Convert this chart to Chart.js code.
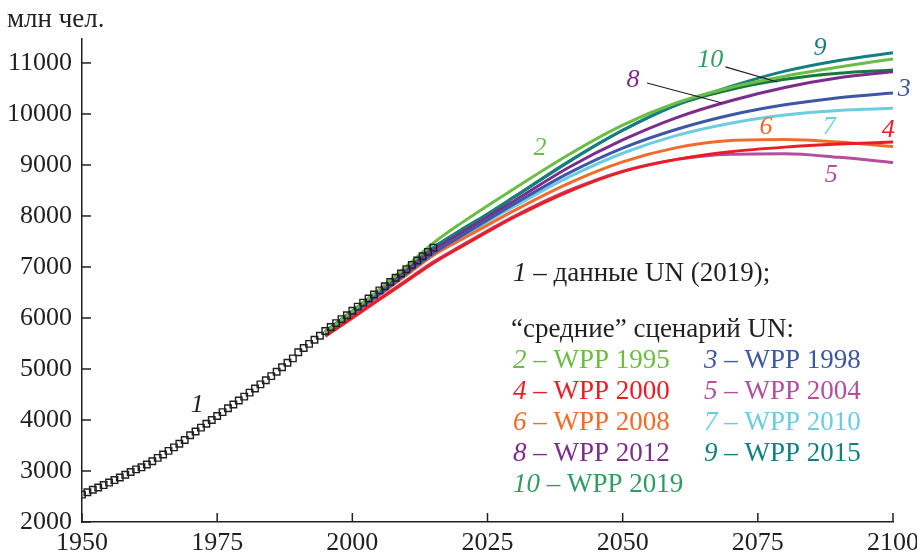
<!DOCTYPE html>
<html>
<head>
<meta charset="utf-8">
<script src="https://cdn.jsdelivr.net/npm/chart.js@4"></script>
<style>
  html, body { margin: 0; padding: 0; background: #fff; }
  #wrap { width: 917px; height: 553px; position: relative; }
</style>
</head>
<body>
<div id="wrap"><canvas id="grafico"></canvas></div>
<script>
// данные UN (2019), 1950-2015, млн чел.
const anosHist = [];
for (let a = 1950; a <= 2015; a++) anosHist.push(a);
const popHist = [
  2536, 2584, 2631, 2677, 2724, 2773, 2822, 2873, 2925, 2979,
  3032, 3072, 3126, 3190, 3257, 3324, 3394, 3464, 3535, 3609,
  3700, 3775, 3850, 3925, 4000, 4079, 4154, 4229, 4305, 4383,
  4458, 4536, 4617, 4698, 4778, 4861, 4946, 5034, 5122, 5209,
  5327, 5411, 5493, 5573, 5652, 5744, 5822, 5900, 5977, 6054,
  6143, 6222, 6301, 6381, 6461, 6541, 6623, 6705, 6788, 6872,
  6957, 7041, 7126, 7211, 7296, 7380
];

// сценарии WPP
const anosProj = [1995, 2000, 2005, 2010, 2015, 2020, 2025, 2030, 2040, 2050, 2060, 2070, 2080, 2090, 2100];
const wpp1995 = [5720, 6130, 6560, 7010, 7470, 7850, 8200, 8540, 9200, 9780, 10220, 10520, 10740, 10920, 11080];
const wpp1998 = [5710, 6090, 6470, 6870, 7270, 7600, 7920, 8240, 8840, 9330, 9700, 9980, 10180, 10320, 10410];
const wpp2000 = [5640, 6000, 6360, 6720, 7080, 7390, 7690, 7980, 8480, 8870, 9110, 9260, 9350, 9410, 9450];
const wpp2004 = [5660, 6020, 6380, 6740, 7100, 7410, 7710, 8000, 8500, 8880, 9110, 9210, 9220, 9150, 9050];
const wpp2008 = [5700, 6080, 6450, 6840, 7230, 7530, 7820, 8110, 8640, 9060, 9340, 9480, 9500, 9450, 9360];
const wpp2010 = [5710, 6090, 6470, 6870, 7260, 7580, 7890, 8190, 8760, 9230, 9580, 9820, 9980, 10070, 10110];
const wpp2012 = [5720, 6110, 6500, 6920, 7330, 7660, 7980, 8300, 8950, 9490, 9930, 10260, 10520, 10710, 10830];
const wpp2015 = [5730, 6130, 6530, 6950, 7380, 7710, 8030, 8370, 9060, 9680, 10180, 10540, 10840, 11050, 11200];
const wpp2019 = [5730, 6140, 6540, 6960, 7380, 7720, 8040, 8380, 9070, 9680, 10180, 10480, 10680, 10800, 10860];

const xTicks = [1950, 1975, 2000, 2025, 2050, 2075, 2100];
const yTicks = [2000, 3000, 4000, 5000, 6000, 7000, 8000, 9000, 10000, 11000];

const preto = '#231f20';
const fonte = '"Liberation Serif", "Times New Roman", serif';

const series = [
  { n: '2', nome: 'WPP 1995', dados: wpp1995, cor: '#6bbd45' },
  { n: '3', nome: 'WPP 1998', dados: wpp1998, cor: '#3d56a6' },
  { n: '4', nome: 'WPP 2000', dados: wpp2000, cor: '#ec1c24' },
  { n: '5', nome: 'WPP 2004', dados: wpp2004, cor: '#b44f9e' },
  { n: '6', nome: 'WPP 2008', dados: wpp2008, cor: '#f26b2a' },
  { n: '7', nome: 'WPP 2010', dados: wpp2010, cor: '#6dcde0' },
  { n: '8', nome: 'WPP 2012', dados: wpp2012, cor: '#7d2c8c' },
  { n: '9', nome: 'WPP 2015', dados: wpp2015, cor: '#137f80' },
  { n: '10', nome: 'WPP 2019', dados: wpp2019, cor: '#167a3e', corTexto: '#2f9d63' }
];

// номера кривых на поле графика (год, млн чел.)
const rotulos = [
  { t: '1', x: 1971.3, y: 4294, cor: preto },
  { t: '2', x: 2034.7, y: 9333, cor: '#6bbd45' },
  { t: '8', x: 2051.9, y: 10667, cor: '#7d2c8c' },
  { t: '10', x: 2066.2, y: 11059, cor: '#2f9d63' },
  { t: '9', x: 2086.5, y: 11294, cor: '#137f80' },
  { t: '3', x: 2102.1, y: 10490, cor: '#3d56a6' },
  { t: '6', x: 2076.5, y: 9745, cor: '#f26b2a' },
  { t: '7', x: 2088.2, y: 9745, cor: '#6dcde0' },
  { t: '4', x: 2099.1, y: 9686, cor: '#ec1c24' },
  { t: '5', x: 2088.6, y: 8804, cor: '#b44f9e' }
];
const linhasGuia = [
  [2054.5, 10608, 2068.4, 10216],
  [2069.0, 10922, 2078.6, 10627]
];

const datasets = [{
  label: '1',
  data: anosHist.map((a, i) => ({ x: a, y: popHist[i] })),
  showLine: false,
  pointStyle: 'rect',
  pointRadius: 4.6,
  pointBorderWidth: 1.4,
  pointBorderColor: preto,
  pointBackgroundColor: 'rgba(255,255,255,0)'
}];
series.forEach(s => {
  datasets.push({
    label: s.nome,
    data: anosProj.map((a, i) => ({ x: a, y: s.dados[i] })),
    borderColor: s.cor,
    borderWidth: 3,
    pointRadius: 0,
    cubicInterpolationMode: 'monotone',
    fill: false
  });
});

const desenhos = {
  id: 'desenhos',
  afterDraw(chart) {
    const ctx = chart.ctx;
    const x = chart.scales.x, y = chart.scales.y;
    const area = chart.chartArea;
    ctx.save();
    // засечки внутрь и подписи оси X
    ctx.strokeStyle = preto;
    ctx.lineWidth = 1.5;
    ctx.fillStyle = preto;
    ctx.font = '26px ' + fonte;
    ctx.textAlign = 'center';
    ctx.textBaseline = 'alphabetic';
    xTicks.forEach(v => {
      const px = x.getPixelForValue(v);
      ctx.beginPath(); ctx.moveTo(px, area.bottom); ctx.lineTo(px, area.bottom - 9); ctx.stroke();
      ctx.fillText(String(v), px, 550);
    });
    yTicks.forEach(v => {
      const py = y.getPixelForValue(v);
      ctx.beginPath(); ctx.moveTo(area.left, py); ctx.lineTo(area.left + 9, py); ctx.stroke();
    });
    // выноски
    ctx.lineWidth = 1.2;
    linhasGuia.forEach(l => {
      ctx.beginPath();
      ctx.moveTo(x.getPixelForValue(l[0]), y.getPixelForValue(l[1]));
      ctx.lineTo(x.getPixelForValue(l[2]), y.getPixelForValue(l[3]));
      ctx.stroke();
    });
    // номера кривых
    ctx.font = 'italic 26px ' + fonte;
    ctx.textBaseline = 'middle';
    rotulos.forEach(r => {
      ctx.fillStyle = r.cor;
      ctx.fillText(r.t, x.getPixelForValue(r.x), y.getPixelForValue(r.y));
    });
    // подпись оси
    ctx.textAlign = 'left';
    ctx.textBaseline = 'alphabetic';
    ctx.fillStyle = preto;
    ctx.font = '27px ' + fonte;
    ctx.fillText('млн чел.', 7, 27);
    // легенда
    function item(px, py, num, texto, cor) {
      ctx.fillStyle = cor;
      ctx.font = 'italic 27px ' + fonte;
      ctx.fillText(num, px, py);
      let w = ctx.measureText(num).width;
      ctx.font = '27px ' + fonte;
      ctx.fillText(' – ' + texto, px + w, py);
    }
    item(513, 281, '1', 'данные UN (2019);', preto);
    ctx.font = '27px ' + fonte;
    ctx.fillStyle = preto;
    ctx.fillText('“средние” сценарий UN:', 511, 337);
    const linhasY = [368, 399, 430, 461, 492];
    series.forEach((s, i) => {
      const col = i % 2, lin = Math.floor(i / 2);
      item(col ? 704 : 513, linhasY[lin], s.n, s.nome, s.corTexto || s.cor);
    });
    ctx.restore();
  }
};

new Chart(document.getElementById('grafico'), {
  type: 'line',
  data: { datasets },
  options: {
    responsive: true,
    maintainAspectRatio: false,
    animation: false,
    layout: { padding: { top: 39, right: 24, left: 0, bottom: 0 } },
    plugins: { legend: { display: false }, tooltip: { enabled: false } },
    scales: {
      x: {
        type: 'linear',
        min: 1950, max: 2100,
        afterFit: s => { s.height = 31; },
        afterBuildTicks: s => { s.ticks = xTicks.map(v => ({ value: v })); },
        grid: { display: false },
        border: { display: true, color: preto, width: 1.5 },
        ticks: { display: false }
      },
      y: {
        type: 'linear',
        min: 2000, max: 11470,
        afterFit: s => { s.width = 82; },
        afterBuildTicks: s => { s.ticks = yTicks.map(v => ({ value: v })); },
        grid: { display: false },
        border: { display: true, color: preto, width: 1.5 },
        ticks: { color: preto, padding: 2, font: { family: fonte, size: 26 }, callback: v => String(v) }
      }
    }
  },
  plugins: [desenhos]
});
</script>
</body>
</html>
